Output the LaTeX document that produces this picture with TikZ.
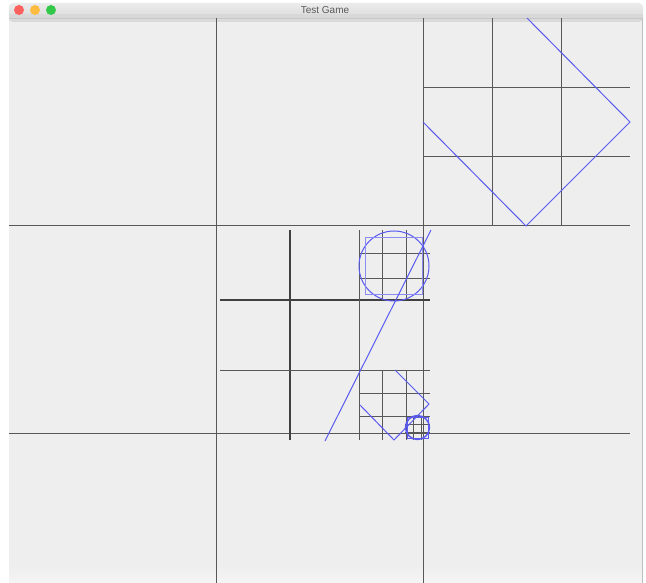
\documentclass[tikz,border=0pt]{standalone}
\usepackage{fontspec}
\usepackage{xcolor}
\newfontfamily\titlefont{Liberation Sans}
\usetikzlibrary{calc}

\definecolor{canvas}{HTML}{EEEEEE}
\definecolor{barTop}{HTML}{EBEBEB}
\definecolor{barBottom}{HTML}{D8D8D8}
\definecolor{macRed}{HTML}{FC605C}
\definecolor{macYellow}{HTML}{FDBC40}
\definecolor{macGreen}{HTML}{34C84A}
\definecolor{treeLine}{HTML}{585858}
\definecolor{bodyBlue}{HTML}{5A5AF0}

\begin{document}
\begin{tikzpicture}[
    x=1pt, y=-1pt,
    %% window styles
    titlebar/.style={top color=barTop, bottom color=barBottom, draw=none},
    light/.style={circle, minimum size=10pt, inner sep=0pt, draw=none},
    %% tree styles
    gridline/.style={draw=treeLine, line width=1pt},
    gridbold/.style={draw=black!75, line width=1.5pt},
    bluepath/.style={draw=bodyBlue, line width=1pt},
    bluefaint/.style={draw=bodyBlue!70, line width=1pt}
]

    \useasboundingbox (0,0) rectangle (646,583);
    \fill[white] (0,0) rectangle (646,583);

    %% --- window ---------------------------------------------
    \fill[canvas] (9,18) rectangle (643,583);
    \shade[top color=canvas, bottom color=white!96!black, draw=none] (9,565) rectangle (643,583);
    \shade[titlebar, rounded corners=4pt] (9,3) rectangle (643,22);
    \fill[barBottom] (9,14) rectangle (643,18);
    \draw[gray!45] (9,18) -- (643,18);
    \draw[gray!50] (642.5,18) -- (642.5,583);

    \node[light, fill=macRed]    (red)    at (19,10) {};
    \node[light, fill=macYellow] (yellow) at (35,10) {};
    \node[light, fill=macGreen]  (green)  at (51,10) {};
    \node[font=\titlefont\fontsize{10}{12}\selectfont, text=black!65] (title) at (325,10) {Test Game};

    %% --- level 0 ---------------------------------------------
    \foreach \x in {216,423} \draw[gridline] (\x,18) -- (\x,583);
    \foreach \y in {226,433} \draw[gridline] (9,\y) -- (630,\y);

    %% --- top right cell --------------------------------------
    \foreach \x in {492,561} \draw[gridline] (\x,18) -- (\x,226);
    \foreach \y in {88,157} \draw[gridline] (423,\y) -- (630,\y);

    %% --- centre cell -----------------------------------------
    \draw[gridbold] (290,230) -- (290,440);
    \draw[gridbold] (220,300) -- (430,300);
    \draw[gridline] (359,230) -- (359,440);
    \draw[gridline] (220,370) -- (430,370);

    %% --- sub cells -------------------------------------------
    \foreach \x in {382,406} \draw[gridline] (\x,230) -- (\x,300);
    \foreach \y in {254,278} \draw[gridline] (360,\y) -- (430,\y);
    \foreach \x in {382,406} \draw[gridline] (\x,370) -- (\x,440);
    \foreach \y in {393,416} \draw[gridline] (360,\y) -- (430,\y);
    \foreach \x in {413,421} \draw[gridline] (\x,416) -- (\x,440);
    \foreach \y in {424,432} \draw[gridline] (405,\y) -- (430,\y);

    %% --- bodies ----------------------------------------------
    \draw[bluepath] (527,18) -- (630,122) -- (526,226) -- (423,122);
    \draw[bluepath] (394,266) circle[radius=35pt];
    \draw[bluefaint] (365,238) rectangle (422,294);
    \draw[bluepath] (431,230) -- (325,441);
    \draw[bluepath] (395,370) -- (429,404) -- (394,440) -- (360,405);
    \draw[bluepath, line width=1.4pt] (417.5,427.5) circle[radius=12pt];
    \draw[bluepath] (407,417) rectangle (428,438);

\end{tikzpicture}
\end{document}
